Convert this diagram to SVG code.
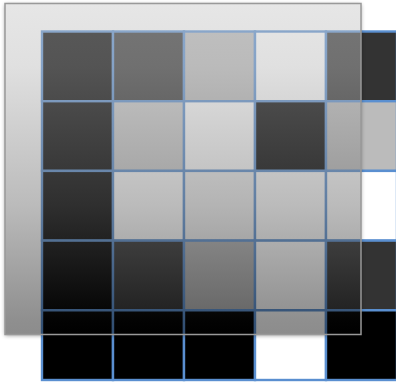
<svg xmlns="http://www.w3.org/2000/svg" width="396" height="382" viewBox="0 0 396 382">
  <defs>
    <linearGradient id="ov" x1="0" y1="0" x2="0" y2="1">
      <stop offset="0" stop-color="#c8c8c8"/>
      <stop offset="0.19" stop-color="#bababa"/>
      <stop offset="0.61" stop-color="#686868"/>
      <stop offset="0.96" stop-color="#060606"/>
      <stop offset="1" stop-color="#000000"/>
    </linearGradient>
    <filter id="blur" x="-10%" y="-10%" width="120%" height="120%">
      <feGaussianBlur stdDeviation="2"/>
    </filter>
    <mask id="outside" maskUnits="userSpaceOnUse" x="0" y="0" width="396" height="382">
      <rect x="0" y="0" width="396" height="382" fill="#ffffff"/>
      <rect x="5" y="3.5" width="356" height="331" fill="#000000"/>
    </mask>
  </defs>
  <style>
    .c { stroke: #5a8fd0; stroke-width: 2.4; }
    .k { fill: #000000; }
    .d { fill: #333333; }
    .g { fill: #bbbbbb; }
    .l { fill: #cccccc; }
    .m { fill: #b3b3b3; }
    .n { fill: #f2f2f2; }
    .w { fill: #ffffff; }
  </style>
  <rect x="0" y="0" width="396" height="382" fill="#ffffff"/>

  <g id="grid">
    <g id="row1">
      <rect class="c k" x="42" y="31.5" width="71" height="69.7"/>
      <rect class="c d" x="113" y="31.5" width="71" height="69.7"/>
      <rect class="c g" x="184" y="31.5" width="71" height="69.7"/>
      <rect class="c w" x="255" y="31.5" width="71" height="69.7"/>
      <rect class="c d" x="326" y="31.5" width="71" height="69.7"/>
    </g>
    <g id="row2">
      <rect class="c k" x="42" y="101.2" width="71" height="69.7"/>
      <rect class="c l" x="113" y="101.2" width="71" height="69.7"/>
      <rect class="c w" x="184" y="101.2" width="71" height="69.7"/>
      <rect class="c k" x="255" y="101.2" width="71" height="69.7"/>
      <rect class="c g" x="326" y="101.2" width="71" height="69.7"/>
    </g>
    <g id="row3">
      <rect class="c k" x="42" y="170.9" width="71" height="69.7"/>
      <rect class="c w" x="113" y="170.9" width="71" height="69.7"/>
      <rect class="c n" x="184" y="170.9" width="71" height="69.7"/>
      <rect class="c w" x="255" y="170.9" width="71" height="69.7"/>
      <rect class="c w" x="326" y="170.9" width="71" height="69.7"/>
    </g>
    <g id="row4">
      <rect class="c k" x="42" y="240.6" width="71" height="69.7"/>
      <rect class="c d" x="113" y="240.6" width="71" height="69.7"/>
      <rect class="c m" x="184" y="240.6" width="71" height="69.7"/>
      <rect class="c w" x="255" y="240.6" width="71" height="69.7"/>
      <rect class="c d" x="326" y="240.6" width="71" height="69.7"/>
    </g>
    <g id="row5">
      <rect class="c k" x="42" y="310.3" width="71" height="69.7"/>
      <rect class="c k" x="113" y="310.3" width="71" height="69.7"/>
      <rect class="c k" x="184" y="310.3" width="71" height="69.7"/>
      <rect class="c w" x="255" y="310.3" width="71" height="69.7"/>
      <rect class="c k" x="326" y="310.3" width="71" height="69.7"/>
    </g>
  </g>

  <g id="frame">
    <rect x="5" y="4.5" width="356" height="331" fill="#000000" opacity="0.4" filter="url(#blur)" mask="url(#outside)"/>
    <rect x="5" y="3.5" width="356" height="331" fill="url(#ov)" fill-opacity="0.45" stroke="#999999" stroke-width="1.5"/>
  </g>
</svg>
